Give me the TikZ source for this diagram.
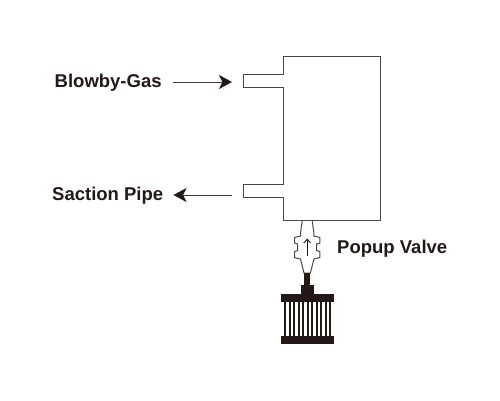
\documentclass[tikz,border=0pt]{standalone}
\usepackage{fontspec}
\setmainfont{Liberation Sans}
\usetikzlibrary{arrows.meta}
\definecolor{ink}{HTML}{231815}
\tikzset{
  outline/.style={draw=ink!80,line width=1pt,line join=miter},
  lbl/.style={font=\bfseries\fontsize{18.5}{22}\selectfont,text=ink,inner sep=0pt,anchor=base west},
  flow/.style={draw=ink!85,line width=0.9pt,-{Stealth[length=13pt,width=14pt,inset=3.5pt,color=ink]}},
  solid fill/.style={fill=ink,draw=none}
}
\begin{document}
\begin{tikzpicture}[x=1pt,y=-1pt]
\useasboundingbox (0,0) rectangle (500,400);
\draw[outline] (283,56) -- (380,56) -- (380,220) -- (283,220) -- (283,197) -- (243.5,197) -- (243.5,184) -- (283,184) -- (283,87.5) -- (243.5,87.5) -- (243.5,74.5) -- (283,74.5) -- cycle;
\node[lbl] (blowby) at (54.5,87) {Blowby-Gas};
\node[lbl] (saction) at (52,200) {Saction Pipe};
\coordinate (inA) at (173,82);
\coordinate (inB) at (232,82);
\coordinate (outA) at (232,195);
\coordinate (outB) at (173.5,195);
\draw[flow] (inA) -- (inB);
\draw[flow] (outA) -- (outB);
\node[lbl] (popup) at (337,253) {Popup Valve};
% valve
\draw[outline] (302.3,220) -- (300.5,233) -- (300.5,236) -- (294.5,237.5) -- (294.5,243) -- (297.7,244) -- (297.7,250.5) -- (294.5,251.5) -- (294.5,257.5) -- (300.5,259) -- (304,273)
  -- (310.4,273) -- (313.9,259) -- (319.9,257.5) -- (319.9,251.5) -- (316.7,250.5) -- (316.7,244) -- (319.9,243) -- (319.9,237.5) -- (313.9,236) -- (313.9,233) -- (312.1,220);
\coordinate (vA) at (307.2,255.5);
\coordinate (vB) at (307.2,238.5);
\draw[draw=ink,line width=0.9pt,-{Straight Barb[length=4pt,width=7pt]}] (vA) -- (vB);
% filter
\fill[solid fill] (304.3,273) rectangle (310.3,285);
\fill[solid fill] (301,285) rectangle (313.5,294);
\fill[solid fill] (281,294) rectangle (333.5,302.3);
\fill[solid fill] (281,335.7) rectangle (333.5,344.2);
\foreach \i in {0,...,10} {
  \fill[solid fill] ({284+\i*4.5},302) rectangle ({286.4+\i*4.5},336);
}
\end{tikzpicture}
\end{document}
